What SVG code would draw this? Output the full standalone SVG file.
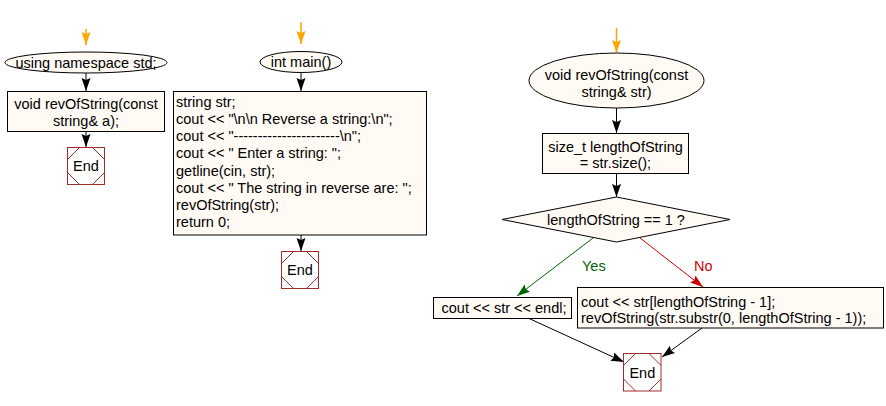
<svg xmlns="http://www.w3.org/2000/svg" width="886" height="406" viewBox="0 0 886 406">
<style>
text{font-family:"Liberation Sans",Arial,sans-serif;font-size:14.5px;fill:#000}
.c{text-anchor:middle}
.box{fill:#fffaf4;stroke:#000;stroke-width:1}
.endbox{fill:#fff;stroke:#a52a2a;stroke-width:1}
.endin{fill:none;stroke:#a52a2a;stroke-width:1}
.ln{stroke:#000;stroke-width:1;fill:none}
.or{stroke:#ffa500;stroke-width:1.5;fill:none}
.yes{stroke:#006400;stroke-width:1;fill:none}
.no{stroke:#cc0000;stroke-width:1;fill:none}
</style>
<defs>
<marker id="ab" markerUnits="userSpaceOnUse" markerWidth="14" markerHeight="10" refX="13" refY="5" orient="auto"><path d="M0,0.5 L13,5 L0,9.5 L2,5 z" fill="#000"/></marker>
<marker id="ao" markerUnits="userSpaceOnUse" markerWidth="14" markerHeight="10" refX="13" refY="5" orient="auto"><path d="M0,0.5 L13,5 L0,9.5 L2,5 z" fill="#ffa500"/></marker>
<marker id="ag" markerUnits="userSpaceOnUse" markerWidth="14" markerHeight="10" refX="13" refY="5" orient="auto"><path d="M0,0.5 L13,5 L0,9.5 L2,5 z" fill="#006400"/></marker>
<marker id="ar" markerUnits="userSpaceOnUse" markerWidth="14" markerHeight="10" refX="13" refY="5" orient="auto"><path d="M0,0.5 L13,5 L0,9.5 L2,5 z" fill="#cc0000"/></marker>
</defs>
<g id="connectors">
<line class="or" x1="86" y1="29" x2="86" y2="45" marker-end="url(#ao)"/>
<line class="ln" x1="86" y1="73" x2="86" y2="91" marker-end="url(#ab)"/>
<line class="ln" x1="86" y1="132" x2="86" y2="147" marker-end="url(#ab)"/>
<line class="or" x1="301" y1="22" x2="301" y2="44" marker-end="url(#ao)"/>
<line class="ln" x1="301" y1="72" x2="301" y2="91" marker-end="url(#ab)"/>
<line class="ln" x1="301" y1="235" x2="301" y2="251" marker-end="url(#ab)"/>
<line class="or" x1="616.5" y1="28" x2="616.5" y2="53" marker-end="url(#ao)"/>
<line class="ln" x1="616.5" y1="108" x2="616.5" y2="133" marker-end="url(#ab)"/>
<line class="ln" x1="616.5" y1="173" x2="616.5" y2="197" marker-end="url(#ab)"/>
<line class="yes" x1="593" y1="238" x2="517" y2="296" marker-end="url(#ag)"/>
<line class="no" x1="640" y1="238" x2="703" y2="287" marker-end="url(#ar)"/>
<line class="ln" x1="528" y1="318" x2="624" y2="362" marker-end="url(#ab)"/>
<line class="ln" x1="702" y1="328" x2="662" y2="357" marker-end="url(#ab)"/>
<text x="582" y="271" style="fill:#006400">Yes</text>
<text x="694" y="271" style="fill:#cc0000">No</text>
</g>
<g id="start-std">
<ellipse class="box" cx="86" cy="62.5" rx="81" ry="10.5"/>
<text class="c" x="86" y="67.5">using namespace std;</text>
</g>
<g id="decl">
<rect class="box" x="7.5" y="91.5" width="157" height="40"/>
<text class="c" x="86" y="109">void revOfString(const</text>
<text class="c" x="86" y="126">string&amp; a);</text>
</g>
<g id="end1">
<rect class="endbox" x="67.5" y="147.5" width="37" height="37"/>
<path class="endin" d="M79.5,147.5 L67.5,159.5 M67.5,172.5 L79.5,184.5 M92.5,184.5 L104.5,172.5 M104.5,159.5 L92.5,147.5"/>
<text class="c" x="86" y="171">End</text>
</g>
<g id="start-main">
<ellipse class="box" cx="301" cy="62" rx="41" ry="10.5"/>
<text class="c" x="301" y="67">int main()</text>
</g>
<g id="main-body">
<rect class="box" x="173.5" y="91.5" width="253" height="143.5"/>
<text x="176" y="106.5">string str;</text>
<text x="176" y="123.75">cout &lt;&lt; "\n\n Reverse a string:\n";</text>
<text x="176" y="141">cout &lt;&lt; "----------------------\n";</text>
<text x="176" y="158.25">cout &lt;&lt; " Enter a string: ";</text>
<text x="176" y="175.5">getline(cin, str);</text>
<text x="176" y="192.75">cout &lt;&lt; " The string in reverse are: ";</text>
<text x="176" y="210">revOfString(str);</text>
<text x="176" y="227.25">return 0;</text>
</g>
<g id="end2">
<rect class="endbox" x="281.5" y="251.5" width="37" height="37"/>
<path class="endin" d="M293.5,251.5 L281.5,263.5 M281.5,276.5 L293.5,288.5 M306.5,288.5 L318.5,276.5 M318.5,263.5 L306.5,251.5"/>
<text class="c" x="300" y="275">End</text>
</g>
<g id="start-rev">
<ellipse class="box" cx="616.5" cy="80.5" rx="87.5" ry="27.5"/>
<text class="c" x="616.5" y="80">void revOfString(const</text>
<text class="c" x="616.5" y="96.5">string&amp; str)</text>
</g>
<g id="len">
<rect class="box" x="542.5" y="133.5" width="146" height="40"/>
<text class="c" x="615.5" y="152">size_t lengthOfString</text>
<text class="c" x="615.5" y="168">= str.size();</text>
</g>
<g id="cond">
<polygon class="box" points="616.5,197 730,219.5 616.5,242 502,219.5"/>
<text class="c" x="616" y="224.5">lengthOfString == 1 ?</text>
</g>
<g id="yesbox">
<rect class="box" x="433.5" y="297.5" width="138" height="21"/>
<text class="c" x="504" y="313">cout &lt;&lt; str &lt;&lt; endl;</text>
</g>
<g id="nobox">
<rect class="box" x="577.5" y="287.5" width="306" height="40.5"/>
<text x="581" y="307">cout &lt;&lt; str[lengthOfString - 1];</text>
<text x="581" y="323">revOfString(str.substr(0, lengthOfString - 1));</text>
</g>
<g id="end3">
<rect class="endbox" x="623.5" y="353.5" width="37.5" height="37.5"/>
<path class="endin" d="M635.5,353.5 L623.5,365.5 M623.5,379 L635.5,391 M649,391 L661,379 M661,365.5 L649,353.5"/>
<text class="c" x="642.3" y="377.5">End</text>
</g>
</svg>
